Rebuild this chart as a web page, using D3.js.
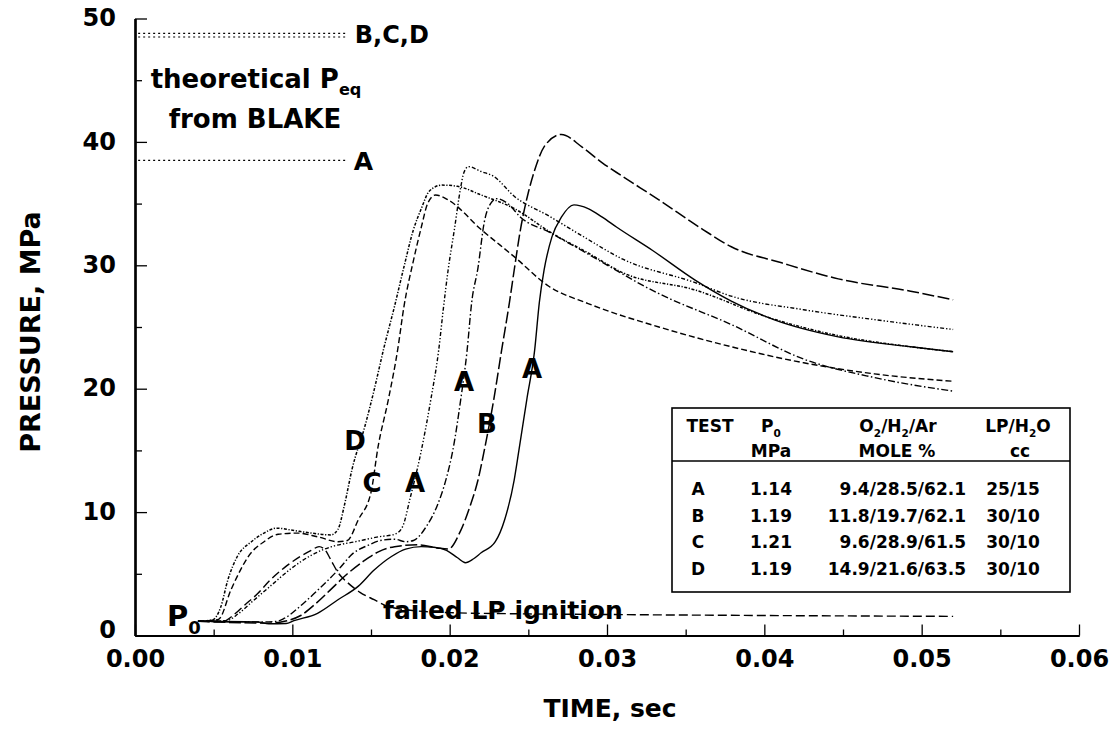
<!DOCTYPE html>
<html><head><meta charset="utf-8">
<script src="https://cdn.jsdelivr.net/npm/d3@7/dist/d3.min.js"></script>
<style>
body{margin:0;background:#fff}
svg{display:block}
text{font-family:"DejaVu Sans","Liberation Sans",Arial,sans-serif;font-weight:bold;fill:#000}
</style>
</head><body>
<svg id="chart" width="1114" height="733"></svg>
<script>
// ---------- DATA ----------
const timeTickValues = [0, 0.01, 0.02, 0.03, 0.04, 0.05, 0.06];
const timeTickLabels = ["0.00", "0.01", "0.02", "0.03", "0.04", "0.05", "0.06"];
const timeMinorTicks = [0.005, 0.015, 0.025, 0.035, 0.045, 0.055];
const pressureTickValues = [0, 10, 20, 30, 40, 50];
const pressureTickLabels = ["0", "10", "20", "30", "40", "50"];
const pressureMinorTicks = [5, 15, 25, 35, 45];

// theoretical equilibrium pressures (BLAKE)
const peqBCD = [48.8, 48.5];
const peqA = [38.5];
const peqTimeSpan = [0.0002, 0.0134];

// measured pressure traces [time s, pressure MPa]
const curveD = [[0.0040,1.15],[0.0049,1.25],[0.00545,2.3],[0.0059,4.5],[0.0065,6.4],[0.0074,7.6],[0.0082,8.3],[0.0090,8.7],[0.0099,8.55],[0.0112,8.3],[0.01245,8.15],[0.0129,8.6],[0.0133,10.5],[0.0138,13.5],[0.0146,16.9],[0.0152,19.9],[0.0158,23.2],[0.0165,26.7],[0.0171,29.9],[0.0177,32.9],[0.0182,34.6],[0.0187,36.0],[0.0195,36.5],[0.0205,36.4],[0.0220,35.7],[0.0241,34.6],[0.0265,32.6],[0.0288,31.0],[0.0310,29.4],[0.0356,28.0],[0.0402,25.8],[0.0447,24.3],[0.0493,23.4],[0.0520,23.0]];
const curveC = [[0.0040,1.15],[0.0053,1.3],[0.0061,3.7],[0.0067,5.3],[0.0072,6.4],[0.0082,7.6],[0.0091,8.2],[0.0103,8.3],[0.0116,8.0],[0.0129,7.6],[0.0135,7.7],[0.0142,9.4],[0.0150,11.6],[0.01545,15.3],[0.0161,19.1],[0.0167,23.2],[0.0171,26.7],[0.0177,30.4],[0.0182,33.1],[0.0186,35.0],[0.0191,35.7],[0.0199,35.3],[0.0220,32.9],[0.0241,30.7],[0.0263,28.3],[0.0288,26.9],[0.0333,25.0],[0.0379,23.4],[0.0425,22.1],[0.0470,21.2],[0.0520,20.6]];
const curveA1 = [[0.0040,1.15],[0.0058,1.2],[0.0066,1.8],[0.0075,2.8],[0.0086,4.0],[0.0099,5.4],[0.0112,6.5],[0.0125,7.2],[0.0140,7.6],[0.0155,8.0],[0.0165,8.2],[0.0170,8.8],[0.0175,11.2],[0.0182,15.0],[0.0188,19.1],[0.0193,23.1],[0.0196,26.5],[0.0199,29.6],[0.0203,32.9],[0.0207,36.3],[0.0209,37.5],[0.0212,38.0],[0.0220,37.6],[0.0228,37.2],[0.0241,35.6],[0.0263,34.0],[0.0284,32.4],[0.0310,30.5],[0.0356,28.6],[0.0379,27.5],[0.0425,26.4],[0.0470,25.6],[0.0520,24.8]];
const curveA2 = [[0.0040,1.15],[0.0080,1.1],[0.0090,1.15],[0.0095,1.4],[0.0107,2.6],[0.0118,3.9],[0.0129,5.3],[0.0139,6.7],[0.0148,7.3],[0.0156,7.7],[0.0165,7.8],[0.0172,7.6],[0.0177,7.7],[0.0185,8.8],[0.0192,10.5],[0.0198,12.8],[0.0202,15.0],[0.0207,19.1],[0.0211,23.0],[0.0214,27.0],[0.0218,29.8],[0.0222,33.5],[0.0226,35.0],[0.0230,35.4],[0.0237,35.0],[0.0245,33.9],[0.0263,32.7],[0.0284,31.2],[0.0333,27.7],[0.0379,25.2],[0.0425,22.4],[0.0470,20.9],[0.0520,19.8]];
const curveB = [[0.0040,1.15],[0.0085,1.0],[0.0095,1.15],[0.0105,1.6],[0.0115,2.6],[0.0125,3.8],[0.0135,5.0],[0.0145,6.0],[0.0155,6.8],[0.0165,7.2],[0.0180,7.35],[0.0192,7.1],[0.0199,7.0],[0.0207,8.5],[0.0213,10.5],[0.0218,12.6],[0.0222,15.0],[0.0228,19.1],[0.0233,23.1],[0.0238,27.0],[0.0241,29.6],[0.0245,32.9],[0.0250,35.9],[0.0254,37.7],[0.0260,39.6],[0.0271,40.6],[0.0284,39.6],[0.0297,38.3],[0.0310,37.2],[0.0333,35.3],[0.0361,32.9],[0.0379,31.5],[0.0411,30.2],[0.0447,28.9],[0.0493,27.9],[0.0520,27.2]];
const curveA3 = [[0.0040,1.15],[0.0078,1.1],[0.0085,0.95],[0.0096,0.97],[0.0101,1.2],[0.0116,1.8],[0.0129,2.9],[0.0142,4.0],[0.0152,5.3],[0.0163,6.4],[0.0172,7.0],[0.0182,7.2],[0.0190,7.15],[0.0198,6.9],[0.0205,6.3],[0.0210,5.9],[0.0215,6.2],[0.0220,6.7],[0.0229,7.6],[0.0235,9.4],[0.0241,12.6],[0.0244,15.0],[0.0249,19.1],[0.0254,23.1],[0.0257,27.0],[0.0260,29.6],[0.0265,32.3],[0.0271,33.9],[0.0279,34.9],[0.0288,34.6],[0.0297,33.9],[0.0306,33.1],[0.0329,31.2],[0.0356,28.8],[0.0379,27.1],[0.0406,25.6],[0.0447,24.2],[0.0493,23.4],[0.0520,23.0]];
const curveFailed = [[0.0040,1.15],[0.0057,1.2],[0.0062,1.6],[0.0070,2.5],[0.0078,3.4],[0.0086,4.5],[0.0095,5.5],[0.0105,6.4],[0.0112,6.9],[0.0117,7.2],[0.0121,6.9],[0.0125,6.0],[0.0129,5.1],[0.0135,4.3],[0.0143,3.5],[0.0152,2.9],[0.0160,2.4],[0.0175,2.05],[0.0200,1.85],[0.0250,1.75],[0.0300,1.7],[0.0400,1.62],[0.0520,1.55]];

// legend table
const testNames = ["A", "B", "C", "D"];
const p0Values = ["1.14", "1.19", "1.21", "1.19"];
const moleValues = ["9.4/28.5/62.1", "11.8/19.7/62.1", "9.6/28.9/61.5", "14.9/21.6/63.5"];
const lpH2oValues = ["25/15", "30/10", "30/10", "30/10"];

// curve labels [text, time, pressure]
const curveLabels = [["D",0.01398,15.8],["C",0.01506,12.4],["A",0.0178,12.4],["A",0.02091,20.6],["B",0.02237,17.2],["A",0.02523,21.6]];

// ---------- DRAW ----------
const svg = d3.select("#chart");
const x = d3.scaleLinear().domain([0, 0.06]).range([135, 1079]);
const y = d3.scaleLinear().domain([0, 50]).range([635.5, 18.5]);

const series = [
  {data: curveD, dash: "3,1.6,1.2,1.6", w: 1.5},
  {data: curveC, dash: "6,3", w: 1.4},
  {data: curveA1, dash: "4,2,1.3,2,1.3,2", w: 1.4},
  {data: curveA2, dash: "7,2.5,1.5,2.5", w: 1.4},
  {data: curveB, dash: "12,3.5", w: 1.5},
  {data: curveA3, dash: null, w: 1.4},
  {data: curveFailed, dash: "9,4", w: 1.4}
];

const line = d3.line().x(d => x(d[0])).y(d => y(d[1])).curve(d3.curveMonotoneX);
const gLines = svg.append("g");
series.forEach(s => {
  gLines.append("path").attr("d", line(s.data)).attr("fill", "none")
    .attr("stroke", "#000").attr("stroke-width", s.w)
    .attr("stroke-dasharray", s.dash).attr("stroke-linejoin", "round");
});

// theoretical lines
const gPeq = svg.append("g");
peqBCD.concat(peqA).forEach(p => {
  gPeq.append("line").attr("x1", x(peqTimeSpan[0])).attr("x2", x(peqTimeSpan[1]))
    .attr("y1", y(p)).attr("y2", y(p)).attr("stroke", "#000").attr("stroke-width", 1.2)
    .attr("stroke-dasharray", "2,3");
});

// axes
const xAxis = d3.axisBottom(x).tickValues(timeTickValues)
  .tickFormat((d, i) => timeTickLabels[i]).tickSizeInner(-11).tickSizeOuter(0).tickPadding(14);
const xMinor = d3.axisBottom(x).tickValues(timeMinorTicks).tickFormat("").tickSizeInner(-6).tickSizeOuter(0);
const yAxis = d3.axisLeft(y).tickValues(pressureTickValues)
  .tickFormat((d, i) => pressureTickLabels[i]).tickSizeInner(-12).tickSizeOuter(0).tickPadding(19);
const yMinor = d3.axisLeft(y).tickValues(pressureMinorTicks).tickFormat("").tickSizeInner(-7).tickSizeOuter(0);

function styleAxis(g) {
  g.select(".domain").attr("stroke-width", 2.2);
  g.selectAll(".tick line").attr("stroke-width", 1.3);
  g.selectAll("text").attr("font-family", "DejaVu Sans, sans-serif").attr("font-weight", "bold")
    .attr("font-size", 24).attr("fill", "#000");
}
svg.append("g").attr("transform", `translate(0,${y(0)})`).call(xMinor).call(styleAxis);
svg.append("g").attr("transform", `translate(0,${y(0)})`).call(xAxis).call(styleAxis);
svg.append("g").attr("transform", `translate(${x(0)},0)`).call(yMinor).call(styleAxis);
const gy = svg.append("g").attr("transform", `translate(${x(0)},0)`).call(yAxis).call(styleAxis);
gy.selectAll(".tick text").attr("dy", (d) => d === 0 ? "0.1em" : "0.3em");

// axis titles
svg.append("text").attr("x", 610).attr("y", 717).attr("text-anchor", "middle")
  .attr("font-size", 25).text("TIME, sec");
svg.append("text").attr("transform", "translate(40,332) rotate(-90)").attr("text-anchor", "middle")
  .attr("font-size", 27).text("PRESSURE, MPa");

// rich text helper: parts = strings or {sub: "..."}
function rich(g, px, py, parts, size, anchor) {
  const t = g.append("text").attr("x", px).attr("y", py).attr("font-size", size)
    .attr("text-anchor", anchor || "start");
  let shifted = false;
  parts.forEach(p => {
    if (typeof p === "string") {
      const ts = t.append("tspan").text(p);
      if (shifted) { ts.attr("dy", -size * 0.28); shifted = false; }
    } else {
      const ts = t.append("tspan").attr("font-size", size * 0.62).text(p.sub);
      if (!shifted) { ts.attr("dy", size * 0.28); shifted = true; }
    }
  });
  return t;
}

// annotations
const gAnn = svg.append("g");
rich(gAnn, 256, 88, ["theoretical P", {sub: "eq"}], 26, "middle");
gAnn.append("text").attr("x", 255).attr("y", 128).attr("text-anchor", "middle").attr("font-size", 26).text("from BLAKE");
gAnn.append("text").attr("x", x(peqTimeSpan[1]) + 9).attr("y", y(peqBCD[0]) + 10).attr("font-size", 24).text("B,C,D");
gAnn.append("text").attr("x", x(peqTimeSpan[1]) + 8).attr("y", y(peqA[0]) + 10).attr("font-size", 25).text("A");
rich(gAnn, 167, 626, ["P", {sub: "0"}], 29, "start");
gAnn.append("text").attr("x", 383).attr("y", 619).attr("font-size", 25).text("failed LP ignition");

curveLabels.forEach(l => {
  gAnn.append("text").attr("x", x(l[1])).attr("y", y(l[2]) + 9.5).attr("text-anchor", "middle")
    .attr("font-size", 26).text(l[0]);
});

// legend table
const box = {x0: 672, x1: 1070, y0: 408, y1: 592, sep: 461};
const gLeg = svg.append("g");
gLeg.append("rect").attr("x", box.x0).attr("y", box.y0).attr("width", box.x1 - box.x0)
  .attr("height", box.y1 - box.y0).attr("fill", "#fff").attr("stroke", "#000").attr("stroke-width", 1.6);
gLeg.append("line").attr("x1", box.x0).attr("x2", box.x1).attr("y1", box.sep).attr("y2", box.sep)
  .attr("stroke", "#000").attr("stroke-width", 1.3);
const hs = 17;
gLeg.append("text").attr("x", 710).attr("y", 432).attr("text-anchor", "middle").attr("font-size", hs).text("TEST");
rich(gLeg, 771, 432, ["P", {sub: "0"}], hs, "middle");
rich(gLeg, 898, 432, ["O", {sub: "2"}, "/H", {sub: "2"}, "/Ar"], hs, "middle");
rich(gLeg, 1018, 432, ["LP/H", {sub: "2"}, "O"], hs, "middle");
gLeg.append("text").attr("x", 771).attr("y", 457).attr("text-anchor", "middle").attr("font-size", hs).text("MPa");
gLeg.append("text").attr("x", 897).attr("y", 457).attr("text-anchor", "middle").attr("font-size", hs).text("MOLE %");
gLeg.append("text").attr("x", 1020).attr("y", 457).attr("text-anchor", "middle").attr("font-size", hs).text("cc");
const rowY = [495, 521.7, 548.3, 575];
testNames.forEach((n, i) => {
  gLeg.append("text").attr("x", 698).attr("y", rowY[i]).attr("text-anchor", "middle").attr("font-size", hs).text(n);
  gLeg.append("text").attr("x", 771).attr("y", rowY[i]).attr("text-anchor", "middle").attr("font-size", hs).text(p0Values[i]);
  gLeg.append("text").attr("x", 966).attr("y", rowY[i]).attr("text-anchor", "end").attr("font-size", hs).text(moleValues[i]);
  gLeg.append("text").attr("x", 1013).attr("y", rowY[i]).attr("text-anchor", "middle").attr("font-size", hs).text(lpH2oValues[i]);
});
</script>
</body></html>
